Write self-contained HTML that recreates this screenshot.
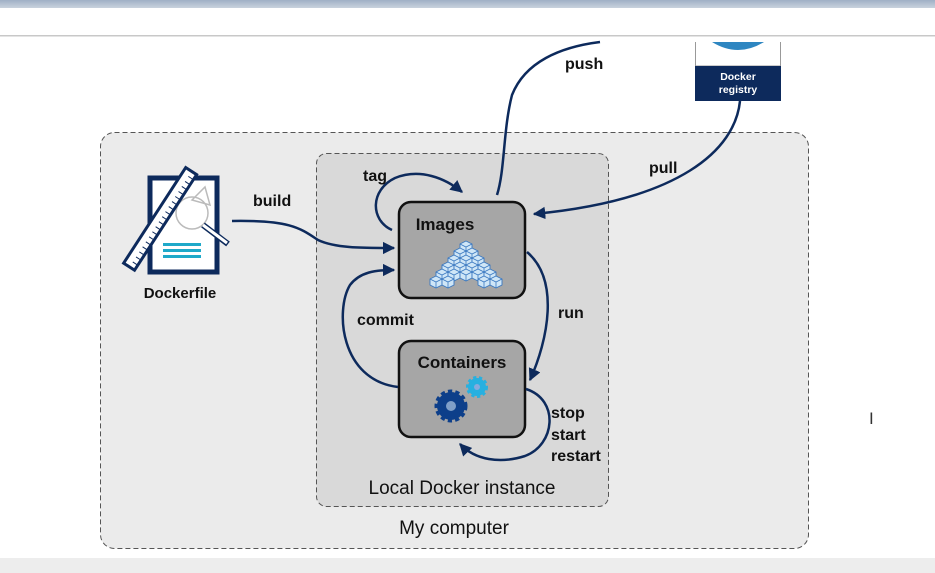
<!DOCTYPE html>
<html><head><meta charset="utf-8"><style>
html,body{margin:0;padding:0;background:#fff;width:935px;height:573px;overflow:hidden}
svg{display:block}
text{font-family:"Liberation Sans",sans-serif}
</style></head><body>
<svg width="935" height="573" viewBox="0 0 935 573" xmlns="http://www.w3.org/2000/svg">
<defs>
<linearGradient id="tb" x1="0" y1="0" x2="0" y2="1"><stop offset="0" stop-color="#9fb0c6"/><stop offset="1" stop-color="#c9d2de"/></linearGradient>
<marker id="ar" viewBox="0 0 10 10" refX="9" refY="5" markerWidth="5" markerHeight="5" orient="auto"><path d="M0,0 L10,5 L0,10 z" fill="#0d2a5c"/></marker>
<g id="cb"><path d="M0,-5 L6,-2 L6,4 L0,7 L-6,4 L-6,-2 z" fill="#cfe6f7" stroke="#3a78c0" stroke-width="0.9"/><path d="M-6,-2 L0,1 L6,-2 M0,1 L0,7" fill="none" stroke="#3a78c0" stroke-width="0.8"/></g>
</defs>
<rect x="0" y="0" width="935" height="8" fill="url(#tb)"/>
<rect x="0" y="35" width="935" height="1.5" fill="#c8c8c8"/>
<rect x="0" y="558" width="935" height="15" fill="#ededed"/>
<rect x="100.5" y="132.5" width="708" height="416" rx="14" fill="#ebebeb" stroke="#555" stroke-dasharray="5,3"/>
<rect x="316.5" y="153.5" width="292" height="353" rx="10" fill="#d9d9d9" stroke="#555" stroke-dasharray="5,3"/>
<text x="462" y="494" font-size="19" text-anchor="middle" fill="#111">Local Docker instance</text>
<text x="454" y="534" font-size="19" text-anchor="middle" fill="#111">My computer</text>
<!-- registry -->
<rect x="695.5" y="37" width="85" height="29" fill="#fff" stroke="#999" stroke-width="1"/>
<path d="M712,42 Q738,58 764,42 z" fill="#2e86c1"/>
<rect x="695" y="66" width="86" height="35" fill="#0d2a5c"/>
<text x="738" y="80" font-size="10.5" font-weight="bold" fill="#fff" text-anchor="middle">Docker</text>
<text x="738" y="93" font-size="10.5" font-weight="bold" fill="#fff" text-anchor="middle">registry</text>
<rect x="0" y="36.5" width="935" height="5.5" fill="#fff"/>
<!-- boxes -->
<rect x="399" y="202" width="126" height="96" rx="12" fill="#a6a6a6" stroke="#111" stroke-width="2.5"/>
<text x="445" y="230" font-size="17" font-weight="bold" fill="#111" text-anchor="middle">Images</text>
<rect x="399" y="341" width="126" height="96" rx="12" fill="#a6a6a6" stroke="#111" stroke-width="2.5"/>
<text x="462" y="368" font-size="17" font-weight="bold" fill="#111" text-anchor="middle">Containers</text>
<!-- cubes -->
<g>
<use href="#cb" x="466" y="246"/>
<use href="#cb" x="460" y="253"/><use href="#cb" x="472" y="253"/>
<use href="#cb" x="454" y="260"/><use href="#cb" x="466" y="260"/><use href="#cb" x="478" y="260"/>
<use href="#cb" x="448" y="267"/><use href="#cb" x="460" y="267"/><use href="#cb" x="472" y="267"/><use href="#cb" x="484" y="267"/>
<use href="#cb" x="442" y="274"/><use href="#cb" x="454" y="274"/><use href="#cb" x="466" y="274"/><use href="#cb" x="478" y="274"/><use href="#cb" x="490" y="274"/>
<use href="#cb" x="436" y="281"/><use href="#cb" x="448" y="281"/><use href="#cb" x="484" y="281"/><use href="#cb" x="496" y="281"/>
</g>
<!-- gears -->
<circle cx="451" cy="406" r="14" fill="#0d3f8a" stroke="#0d3f8a" stroke-width="5" stroke-dasharray="4,3"/>
<circle cx="451" cy="406" r="5" fill="#7f9fc8"/>
<circle cx="477" cy="387" r="9" fill="#27b0e0" stroke="#27b0e0" stroke-width="4" stroke-dasharray="3,2.5"/>
<circle cx="477" cy="387" r="3" fill="#8ad"/>
<!-- dockerfile icon -->
<rect x="150" y="178" width="67" height="94" fill="#fff" stroke="#0d2a5c" stroke-width="5"/>
<circle cx="192" cy="213" r="16" fill="none" stroke="#bbb" stroke-width="1.5"/>
<path d="M192,200 L205,187 L210,205 z" fill="none" stroke="#bbb" stroke-width="1.5"/>
<line x1="203" y1="225" x2="228" y2="244" stroke="#0d2a5c" stroke-width="6"/>
<line x1="203" y1="225" x2="227" y2="243" stroke="#fff" stroke-width="3"/>
<rect x="163" y="243" width="38" height="3" fill="#1fa9c9"/><rect x="163" y="249" width="38" height="3" fill="#1fa9c9"/><rect x="163" y="255" width="38" height="3" fill="#1fa9c9"/>
<g transform="rotate(33 160 220)"><rect x="153" y="162" width="13" height="114" fill="#fff" stroke="#0d2a5c" stroke-width="3"/>
<path d="M160,168 h5 M160,174 h5 M160,180 h5 M160,186 h5 M160,192 h5 M160,198 h5 M160,204 h5 M160,210 h5 M160,216 h5 M160,222 h5 M160,228 h5 M160,234 h5 M160,240 h5 M160,246 h5 M160,252 h5 M160,258 h5 M160,264 h5 M160,270 h5" stroke="#0d2a5c" stroke-width="1"/></g>
<text x="180" y="298" font-size="15" font-weight="bold" fill="#111" text-anchor="middle">Dockerfile</text>
<!-- arrows -->
<g fill="none" stroke="#0d2a5c" stroke-width="2.5">
<path d="M232,221 C290,220 300,228 318,240 C335,248 360,248 394,248" marker-end="url(#ar)"/>
<path d="M392,230 C370,220 370,190 395,178 C420,168 445,178 462,192" marker-end="url(#ar)"/>
<path d="M497,195 C505,170 503,130 512,95 C525,62 560,47 600,42"/>
<path d="M740,101 C735,150 680,200 534,214" marker-end="url(#ar)"/>
<path d="M527,252 C560,280 548,340 530,380" marker-end="url(#ar)"/>
<path d="M398,387 C340,380 335,310 350,285 C360,272 375,270 394,270" marker-end="url(#ar)"/>
<path d="M526,389 C560,400 555,445 525,456 C500,464 475,460 460,444" marker-end="url(#ar)"/>
</g>
<g font-size="16" font-weight="bold" fill="#111">
<text x="253" y="206">build</text>
<text x="363" y="181">tag</text>
<text x="565" y="69">push</text>
<text x="649" y="173">pull</text>
<text x="558" y="318">run</text>
<text x="357" y="325">commit</text>
<text x="551" y="418">stop</text>
<text x="551" y="440">start</text>
<text x="551" y="461">restart</text>
</g>
<text x="869" y="424" font-size="17" fill="#333">I</text>
</svg>
</body></html>
